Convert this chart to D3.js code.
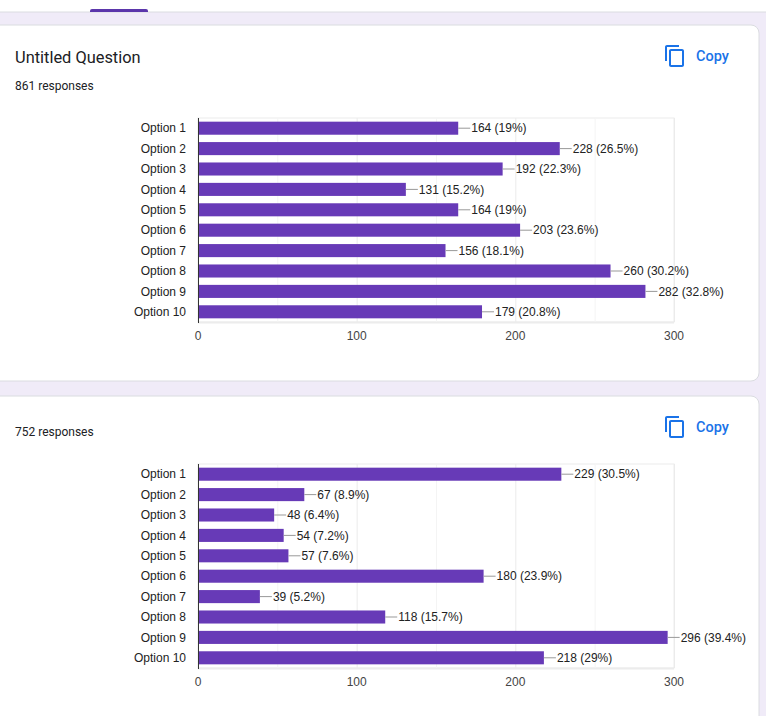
<!DOCTYPE html>
<html>
<head>
<meta charset="utf-8">
<script src="https://d3js.org/d3.v7.min.js"></script>
<style>
  html, body { margin:0; padding:0; background:#f0ebf8; overflow:hidden; }
  svg { display:block; }
</style>
</head>
<body>
<svg id="page" width="766" height="716"></svg>
<script>
//data
const options = ["Option 1","Option 2","Option 3","Option 4","Option 5","Option 6","Option 7","Option 8","Option 9","Option 10"]
const counts1 = [164,228,192,131,164,203,156,260,282,179]
const pct1 = ["19","26.5","22.3","15.2","19","23.6","18.1","30.2","32.8","20.8"]
const counts2 = [229,67,48,54,57,180,39,118,296,218]
const pct2 = ["30.5","8.9","6.4","7.2","7.6","23.9","5.2","15.7","39.4","29"]
const ticks = [0,100,200,300]
const gridTicks = [50,100,150,200,250,300]

const copyIcon = "M16 1H4c-1.1 0-2 .9-2 2v14h2V3h12V1zm3 4H8c-1.1 0-2 .9-2 2v14c0 1.1.9 2 2 2h11c1.1 0 2-.9 2-2V7c0-1.1-.9-2-2-2zm0 16H8V7h11v14z"

let svg = d3.select("#page")

//top tab strip
svg.append("rect").attr("x",-10).attr("y",-10).attr("width",786).attr("height",22)
  .attr("fill","#fff").attr("stroke","#dadce0")
svg.append("path").attr("d","M90,12 V11 Q90,9 92,9 H146 Q148,9 148,11 V12 Z").attr("fill","#5b36ab")

//one summary card: top = card edge, org = where the text block starts
const card = (top, bottom, org, title, responses, counts, pct) => {
  let g = svg.append("g")
  g.append("rect").attr("x",-10).attr("y",top).attr("width",769).attr("height",bottom-top)
    .attr("rx",8).attr("fill","#fff").attr("stroke","#dadce0")
  if(title) g.append("text").attr("x",15).attr("y",org+38).text(title)
    .attr("font-family","Roboto").attr("font-size",16.4).attr("fill","#202124")
  g.append("text").attr("x",15).attr("y",org+65).text(responses + " responses")
    .attr("font-family","Roboto").attr("font-size",12).attr("fill","#202124")
  //copy button
  g.append("path").attr("d",copyIcon).attr("fill","#1a73e8")
    .attr("transform",`translate(663,${top+19})`)
  g.append("text").attr("x",696).attr("y",top+36).text("Copy")
    .attr("font-family","Roboto").attr("font-weight",500).attr("font-size",14.5).attr("fill","#1a73e8")

  //chart
  let pTop = org+93, pBot = org+297
  let x = d3.scaleLinear().domain([0,300]).range([198,674])
  let y = d3.scaleBand().domain(options).range([pTop,pBot]).paddingInner(0.36).paddingOuter(0.18)
  let c = g.append("g").attr("font-family","Liberation Sans, Arial").attr("font-size",12)
  c.append("rect").attr("x",x(0)).attr("y",pTop).attr("width",x(300)-x(0)).attr("height",pBot-pTop)
    .attr("fill","none").attr("stroke","#ececec")
  c.append("line").attr("x1",x(0)).attr("x2",x(300)).attr("y1",pBot+0.5).attr("y2",pBot+0.5)
    .attr("stroke","#ececec").attr("stroke-width",2)
  c.selectAll(".grid").data(gridTicks).enter().append("line")
    .attr("x1",d=>x(d)+0.5).attr("x2",d=>x(d)+0.5).attr("y1",pTop).attr("y2",pBot)
    .attr("stroke",d=> d%100==0 ? "#ebebeb" : "#f4f4f4")
  //bars
  c.selectAll(".bar").data(counts).enter().append("rect")
    .attr("x",x(0)).attr("y",(d,i)=>y(options[i]))
    .attr("width",d=>x(d)-x(0)).attr("height",y.bandwidth())
    .attr("fill","#673ab7")
  //value labels with leader line
  c.selectAll(".lead").data(counts).enter().append("line")
    .attr("x1",d=>x(d)).attr("x2",d=>x(d)+12)
    .attr("y1",(d,i)=>y(options[i])+y.bandwidth()/2).attr("y2",(d,i)=>y(options[i])+y.bandwidth()/2)
    .attr("stroke","#999")
  c.selectAll(".val").data(counts).enter().append("text")
    .attr("x",d=>x(d)+13).attr("y",(d,i)=>y(options[i])+y.bandwidth()/2).attr("dy","0.35em")
    .attr("fill","#222").text((d,i)=> `${d} (${pct[i]}%)`)
  //category axis
  c.selectAll(".cat").data(options).enter().append("text")
    .attr("x",186).attr("y",d=>y(d)+y.bandwidth()/2).attr("dy","0.35em")
    .attr("text-anchor","end").attr("fill","#222").text(d=>d)
  c.append("line").attr("x1",x(0)+0.5).attr("x2",x(0)+0.5).attr("y1",pTop).attr("y2",pBot+1)
    .attr("stroke","#333")
  //value axis
  c.selectAll(".tick").data(ticks).enter().append("text")
    .attr("x",d=>x(d)).attr("y",pBot+18).attr("text-anchor","middle")
    .attr("fill","#444").text(d=>d)
}

card(25, 381, 25, "Untitled Question", 861, counts1, pct1)
card(396, 740, 371, "", 752, counts2, pct2)
</script>
</body>
</html>
